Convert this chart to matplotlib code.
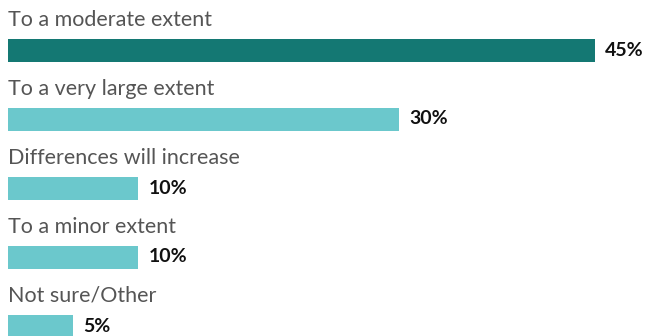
import matplotlib
matplotlib.use("Agg")
import matplotlib.pyplot as plt

categories = ["To a moderate extent", "To a very large extent", "Differences will increase",
              "To a minor extent", "Not sure/Other"]
values = [45, 30, 10, 10, 5]
colors = ["#147873", "#6bc8cc", "#6bc8cc", "#6bc8cc", "#6bc8cc"]

plt.rcParams['font.family'] = ['Lato', 'DejaVu Sans']

fig = plt.figure(figsize=(6.46, 3.36), dpi=100)
ax = fig.add_axes([8 / 646, 0, 638 / 646, 1])

px_per_pct = 587 / 45
ax.set_xlim(0, 638 / px_per_pct)
ax.set_ylim((336 - 50) / 69, -50 / 69)

idx = range(len(values))
ax.barh(list(idx), values, height=23 / 69, color=colors)

for i, (cat, v) in enumerate(zip(categories, values)):
    ax.text(0, i - 30 / 69, cat, va='center', ha='left', fontsize=15.5, color='#555555')
    ax.text(v + 10 / px_per_pct, i, f"{v}%", va='center', ha='left', fontsize=14,
            fontweight='bold', color='#111111')

ax.axis('off')
fig.savefig("out.png", dpi=100)
